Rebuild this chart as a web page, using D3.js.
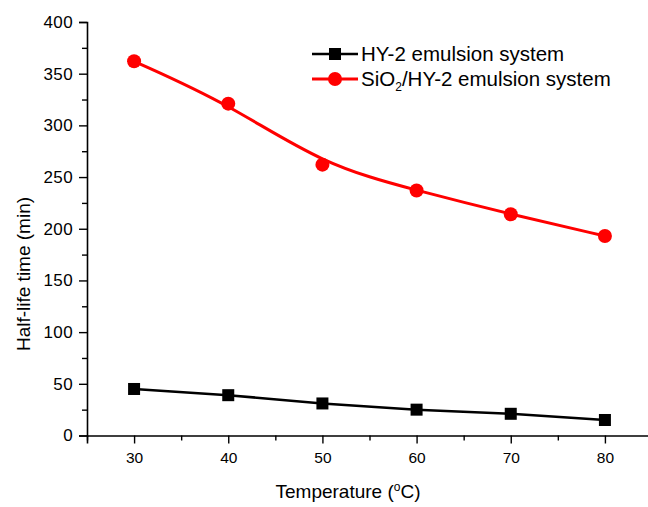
<!DOCTYPE html>
<html>
<head>
<meta charset="utf-8">
<script src="https://cdn.jsdelivr.net/npm/d3@7"></script>
<style>
  body { margin: 0; background: #fff; }
  text { font-family: Arial, "Liberation Sans", sans-serif; fill: #000; }
</style>
</head>
<body>
<svg width="648" height="507"></svg>
<script>
// data
var temps = [30, 40, 50, 60, 70, 80];
var hy2 = [45, 39, 31, 25, 21, 15];
var sio2hy2 = [362, 321, 262, 237, 214, 193];
var xTicks = [30, 40, 50, 60, 70, 80];
var yTicks = [0, 50, 100, 150, 200, 250, 300, 350, 400];

var svg = d3.select("svg");

var x = d3.scaleLinear().domain([25, 85]).range([87, 652]);
var y = d3.scaleLinear().domain([0, 400]).range([435.5, 22]);

// y axis
var yAxis = svg.append("g")
    .attr("transform", "translate(87,0)")
    .call(d3.axisLeft(y).tickValues(yTicks).tickSize(8).tickPadding(6));
yAxis.selectAll(".tick text").style("font-size", "17px").style("letter-spacing", "0.4px");
svg.append("g")
    .attr("transform", "translate(87,0)")
    .call(d3.axisLeft(y).tickValues(d3.range(25, 400, 50)).tickSize(5).tickFormat(""))
    .select(".domain").remove();

// x axis
var xAxis = svg.append("g")
    .attr("transform", "translate(0,435.5)")
    .call(d3.axisBottom(x).tickValues(xTicks).tickSize(8).tickPadding(8));
xAxis.selectAll(".tick text").style("font-size", "15.5px");
svg.append("g")
    .attr("transform", "translate(0,435.5)")
    .call(d3.axisBottom(x).tickValues([25, 35, 45, 55, 65, 75, 85]).tickSize(5).tickFormat(""))
    .select(".domain").remove();

svg.selectAll(".domain").attr("stroke", "#000").attr("stroke-width", 1.6);
svg.selectAll(".tick line").attr("stroke", "#000").attr("stroke-width", 1.4);

// axis titles
var xt = svg.append("text")
    .attr("x", 348).attr("y", 498)
    .attr("text-anchor", "middle")
    .style("font-size", "19px");
xt.append("tspan").text("Temperature (");
xt.append("tspan").attr("dy", -7).style("font-size", "12px").text("o");
xt.append("tspan").attr("dy", 7).text("C)");

svg.append("text")
    .attr("transform", "translate(30,274) rotate(-90)")
    .attr("text-anchor", "middle")
    .style("font-size", "19px")
    .text("Half-life time (min)");

var line = d3.line()
    .x(function(d, i) { return x(temps[i]); })
    .y(function(d) { return y(d); })
    .curve(d3.curveBasis);

var straight = d3.line()
    .x(function(d, i) { return x(temps[i]); })
    .y(function(d) { return y(d); });

// HY-2 series
svg.append("path").datum(hy2)
    .attr("d", straight)
    .attr("fill", "none").attr("stroke", "#000").attr("stroke-width", 2.5);
svg.selectAll(".sq").data(hy2).enter().append("rect")
    .attr("x", function(d, i) { return x(temps[i]) - 6; })
    .attr("y", function(d) { return y(d) - 6; })
    .attr("width", 12).attr("height", 12)
    .attr("fill", "#000");

// SiO2/HY-2 series
svg.append("path").datum(sio2hy2)
    .attr("d", line)
    .attr("fill", "none").attr("stroke", "#ff0000").attr("stroke-width", 3);
svg.selectAll(".ci").data(sio2hy2).enter().append("circle")
    .attr("cx", function(d, i) { return x(temps[i]); })
    .attr("cy", function(d) { return y(d); })
    .attr("r", 7)
    .attr("fill", "#ff0000");

// legend
var leg = svg.append("g");
leg.append("line").attr("x1", 312).attr("x2", 358).attr("y1", 54).attr("y2", 54)
    .attr("stroke", "#000").attr("stroke-width", 2.5);
leg.append("rect").attr("x", 329).attr("y", 48).attr("width", 12).attr("height", 12).attr("fill", "#000");
leg.append("text").attr("x", 361).attr("y", 61).style("font-size", "20.5px").text("HY-2 emulsion system");

leg.append("line").attr("x1", 312).attr("x2", 358).attr("y1", 79).attr("y2", 79)
    .attr("stroke", "#ff0000").attr("stroke-width", 3);
leg.append("circle").attr("cx", 335).attr("cy", 79).attr("r", 7).attr("fill", "#ff0000");
var t2 = leg.append("text").attr("x", 361).attr("y", 86).style("font-size", "20.5px");
t2.append("tspan").text("SiO");
t2.append("tspan").attr("dy", 5).style("font-size", "12px").text("2");
t2.append("tspan").attr("dy", -5).text("/HY-2 emulsion system");
</script>
</body>
</html>
